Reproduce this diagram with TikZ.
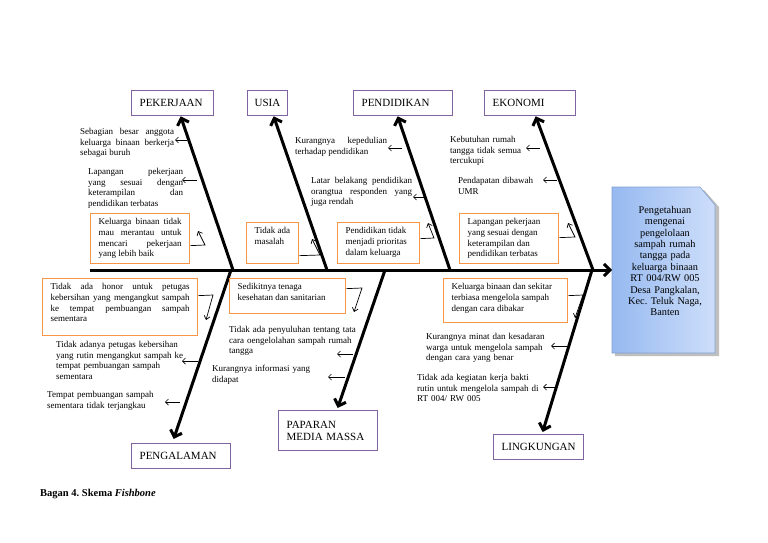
\documentclass[tikz,border=0pt]{standalone}
\usepackage{fontspec}
\setmainfont{Liberation Serif}
\usetikzlibrary{arrows.meta}
\hyphenpenalty=10000 \exhyphenpenalty=10000 \tolerance=9999 \emergencystretch=10pt \hbadness=10000
\frenchspacing
\definecolor{purp}{RGB}{128,100,162}
\definecolor{orng}{RGB}{247,150,70}
\definecolor{headA}{RGB}{150,185,240}
\definecolor{headB}{RGB}{205,222,250}
\definecolor{headline}{RGB}{130,160,210}
\newcommand{\annfont}{\fontsize{9}{10.7}\selectfont}
\begin{document}
\begin{tikzpicture}[x=1pt,y=-1pt,
  cat/.style={draw=purp, line width=1.3pt, inner xsep=8pt, inner ysep=0pt, anchor=north west, minimum height=25pt, align=left, font=\fontsize{11}{12}\selectfont},
  obox/.style={draw=orng, line width=1.3pt, inner xsep=8pt, inner ysep=5pt, anchor=north west, font=\annfont},
  anno/.style={inner sep=0pt, anchor=north west, font=\annfont},
  bone/.style={line width=3pt, -{Straight Barb[length=6pt,width=12pt]}},
  sarr/.style={line width=0.7pt, -{Straight Barb[length=3pt,width=6pt]}},
  barr/.style={line width=0.7pt, -{Straight Barb[length=3.5pt,width=6pt]}}
]
\useasboundingbox[fill=white] (0,0) rectangle (768,543);

% head
\fill[black!25] (615,190) -- (704,190) -- (719,207) -- (719,356) -- (615,356) -- cycle;
\path[left color=headA, right color=headB, draw=headline, line width=0.6pt]
  (612,187) -- (700,187) -- (715,205) -- (715,353) -- (612,353) -- cycle;
\node[align=center, text width=90pt, inner sep=0pt, font=\fontsize{10.3}{11.4}\selectfont] (head) at (665,261)
  {Pengetahuan\\mengenai\\pengelolaan\\sampah rumah\\tangga pada\\keluarga binaan\\RT 004/RW 005\\Desa Pangkalan,\\Kec. Teluk Naga,\\Banten};

% categories
\node[cat, minimum width=82pt, text width=66pt] (pek) at (131,90) {PEKERJAAN};
\node[cat, minimum width=40pt, text width=26pt, inner xsep=7pt] (usia) at (247,90) {USIA};
\node[cat, minimum width=99pt, text width=83pt] (pend) at (353,90) {PENDIDIKAN};
\node[cat, minimum width=91pt, text width=75pt] (eko) at (484,90) {EKONOMI};
\node[cat, minimum width=99pt, text width=83pt] (peng) at (131,443) {PENGALAMAN};
\node[cat, minimum width=99pt, minimum height=40pt, text width=83pt] (pap) at (278,410) {PAPARAN\\MEDIA MASSA};
\node[cat, minimum width=90pt, text width=74pt] (ling) at (493,434) {LINGKUNGAN};

% spine and bones
\coordinate (tail) at (90,270);
\coordinate (headin) at (612,270);
\draw[bone] (tail) -- (headin);
\coordinate (s1) at (233,270);
\coordinate (s2) at (327,270);
\coordinate (s3) at (450,270);
\coordinate (s4) at (593,270);
\coordinate (s5) at (231,270);
\coordinate (s6) at (385,270);
\coordinate (s7) at (592,270);
\draw[bone] (s1) -- ([xshift=8pt]pek.south);
\draw[bone] (s2) -- ([xshift=6pt]usia.south);
\draw[bone] (s3) -- ([xshift=-5.5pt]pend.south);
\draw[bone] (s4) -- ([xshift=5.5pt]eko.south);
\draw[bone] (s5) -- ([xshift=-7.5pt,yshift=4pt]peng.north);
\draw[bone] (s6) -- ([xshift=9.5pt,yshift=2pt]pap.north);
\draw[bone] (s7) -- ([xshift=4pt,yshift=2pt]ling.north);

% PEKERJAAN
\node[anno, text width=94pt, align=justify] (t1) at (80,128) {Sebagian besar anggota\linebreak keluarga binaan berkerja\linebreak sebagai buruh};
\node[anno, text width=95pt, align=justify] (t2) at (88,168) {Lapangan pekerjaan\linebreak yang sesuai dengan\linebreak keterampilan dan\linebreak pendidikan terbatas};
\node[obox] (b1) at (90,213) {\parbox[c][40pt][t]{83pt}{Keluarga binaan tidak\linebreak mau merantau untuk\linebreak mencari pekerjaan\linebreak yang lebih baik}};
\coordinate (a1s) at (187,140); \coordinate (a1e) at (175,140);
\draw[sarr] (a1s) -- (a1e);
\coordinate (a2s) at (197,180); \coordinate (a2e) at (182,180);
\draw[sarr] (a2s) -- (a2e);
\coordinate (k1a) at (205,245); \coordinate (k1b) at (198,231);
\draw[barr] ([yshift=-7pt]b1.east) -- (k1a) -- (k1b);

% USIA
\node[obox] (b2) at (246,222) {\parbox[c][31pt][t]{36pt}{\raggedright Tidak ada\\masalah}};
\coordinate (k2a) at (320,255); \coordinate (k2b) at (312,239);
\draw[barr] ([yshift=-12.5pt]b2.east) -- (k2a) -- (k2b);

% PENDIDIKAN
\node[anno, text width=92pt, align=justify] (t3) at (295,137) {Kurangnya kepedulian\linebreak terhadap pendidikan};
\node[anno, text width=101pt, align=justify] (t4) at (311,177) {Latar belakang pendidikan\linebreak orangtua responden yang\linebreak juga rendah};
\node[obox] (b3) at (337,222) {\parbox[c][31pt][t]{66pt}{\raggedright Pendidikan tidak\\menjadi prioritas\\dalam keluarga}};
\coordinate (a3s) at (402,148); \coordinate (a3e) at (388,148);
\draw[sarr] (a3s) -- (a3e);
\coordinate (a4s) at (427,197); \coordinate (a4e) at (413,197);
\draw[sarr] (a4s) -- (a4e);
\coordinate (k3a) at (434,238); \coordinate (k3b) at (428,223);
\draw[barr] ([yshift=4.5pt]b3.east) -- (k3a) -- (k3b);

% EKONOMI
\node[anno, text width=76pt, align=left] (t5) at (450,136) {Kebutuhan rumah\\tangga tidak semua\\tercukupi};
\node[anno, text width=80pt, align=left] (t6) at (458,177) {Pendapatan dibawah\\UMR};
\node[obox] (b4) at (459,213) {\parbox[c][40pt][t]{83pt}{\raggedright Lapangan pekerjaan\\yang sesuai dengan\\keterampilan dan\\pendidikan terbatas}};
\coordinate (a5s) at (540,148); \coordinate (a5e) at (526,148);
\draw[sarr] (a5s) -- (a5e);
\coordinate (a6s) at (557,180); \coordinate (a6e) at (543,180);
\draw[sarr] (a6s) -- (a6e);
\coordinate (k4a) at (575,237); \coordinate (k4b) at (568,223);
\draw[barr] ([yshift=1pt]b4.east) -- (k4a) -- (k4b);

% PENGALAMAN
\node[obox] (b5) at (42,278) {\parbox[c][47pt][t]{139pt}{Tidak ada honor untuk petugas\linebreak kebersihan yang mengangkut sampah\linebreak ke tempat pembuangan sampah\linebreak sementara}};
\node[anno, text width=128pt, align=left] (t7) at (56,341) {Tidak adanya petugas kebersihan\\yang rutin mengangkut sampah ke\\tempat pembuangan sampah\\sementara};
\node[anno, text width=110pt, align=left] (t8) at (47,391) {Tempat pembuangan sampah\\sementara tidak terjangkau};
\coordinate (k5a) at (213,295); \coordinate (k5b) at (206,320);
\draw[barr] ([yshift=11.5pt]b5.east) -- (k5a) -- (k5b);
\coordinate (a7s) at (198,361); \coordinate (a7e) at (182,361);
\draw[sarr] (a7s) -- (a7e);
\coordinate (a8s) at (180,402); \coordinate (a8e) at (165,402);
\draw[sarr] (a8s) -- (a8e);

% PAPARAN MEDIA MASSA
\node[obox] (b6) at (229,278) {\parbox[c][25pt][t]{100pt}{\raggedright Sedikitnya tenaga\\kesehatan dan sanitarian}};
\node[anno, text width=128pt, align=left] (t9) at (229,326) {Tidak ada penyuluhan tentang tata\\cara oengelolahan sampah rumah\\tangga};
\node[anno, text width=100pt, align=left] (t10) at (212,365) {Kurangnya informasi yang\\didapat};
\coordinate (k6a) at (362,288); \coordinate (k6b) at (354,312);
\draw[barr] ([yshift=7.5pt]b6.east) -- (k6a) -- (k6b);
\coordinate (a9s) at (353,354); \coordinate (a9e) at (337,354);
\draw[sarr] (a9s) -- (a9e);
\coordinate (a10s) at (345,377); \coordinate (a10e) at (328,377);
\draw[sarr] (a10s) -- (a10e);

% LINGKUNGAN
\node[obox] (b7) at (443,278) {\parbox[c][34pt][t]{108pt}{\raggedright Keluarga binaan dan sekitar\\terbiasa mengelola sampah\\dengan cara dibakar}};
\node[anno, text width=122pt, align=left] (t11) at (426,333) {Kurangnya minat dan kesadaran\\warga untuk mengelola sampah\\dengan cara yang benar};
\node[anno, text width=124pt, align=left] (t12) at (417,374) {Tidak ada kegiatan kerja bakti\\rutin untuk mengelola sampah di\\RT 004/ RW 005};
\coordinate (k7a) at (583,295); \coordinate (k7b) at (575,318);
\draw[barr] ([yshift=5pt]b7.east) -- (k7a) -- (k7b);
\coordinate (a11s) at (567,346); \coordinate (a11e) at (551,346);
\draw[sarr] (a11s) -- (a11e);
\coordinate (a12s) at (557,387); \coordinate (a12e) at (543,387);
\draw[sarr] (a12s) -- (a12e);

% caption
\node[anchor=west, inner sep=0pt, font=\bfseries\fontsize{10.5}{12}\selectfont] (cap) at (40,494) {Bagan 4. Skema \textit{Fishbone}};
\end{tikzpicture}
\end{document}
